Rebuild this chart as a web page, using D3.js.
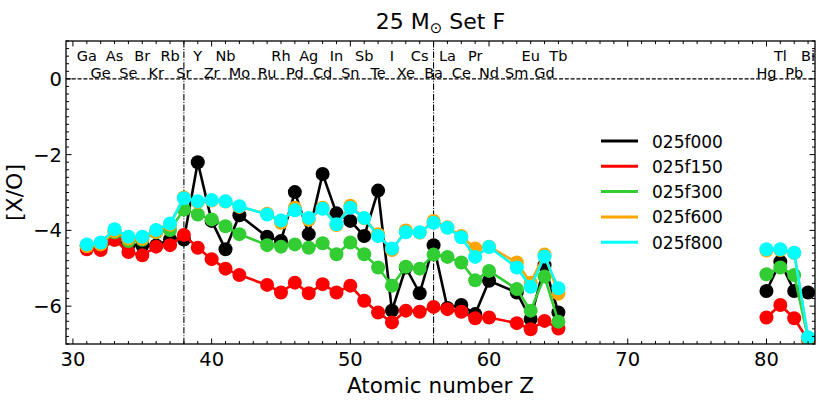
<!DOCTYPE html>
<html>
<head>
<meta charset="utf-8">
<script src="https://cdn.jsdelivr.net/npm/d3@7"></script>
<style>
  body { margin: 0; background: #fff; }
  svg { font-family: "DejaVu Sans", sans-serif; }
</style>
</head>
<body>
<svg id="chart" width="830" height="415"></svg>
<script>
"use strict";

// atomic numbers plotted (Tc, Pm and 66-79 are missing)
const zValues = [31,32,33,34,35,36,37,38,39,40,41,42,44,45,46,47,48,49,50,51,52,53,54,55,56,57,58,59,60,62,63,64,65,80,81,82,83];
const symbols = ["Ga","Ge","As","Se","Br","Kr","Rb","Sr","Y","Zr","Nb","Mo","Ru","Rh","Pd","Ag","Cd","In","Sn","Sb","Te","I","Xe","Cs","Ba","La","Ce","Pr","Nd","Sm","Eu","Gd","Tb","Hg","Tl","Pb","Bi"];

const seriesNames = ["025f000", "025f150", "025f300", "025f600", "025f800"];
const seriesColors = ["#000000", "#ff0000", "#32cd32", "#ffa500", "#00ffff"];

const f000 = [-4.42,-4.45,-4.24,-4.39,-4.40,-4.40,-4.24,-4.24,-2.20,-3.75,-4.50,-3.60,-4.17,-4.28,-2.99,-4.10,-2.51,-3.55,-3.75,-4.15,-2.95,-6.12,-4.98,-5.66,-4.39,-6.05,-5.97,-6.21,-5.33,-5.64,-6.34,-4.92,-6.17,-5.60,-4.83,-5.60,-5.64];
const f150 = [-4.50,-4.52,-4.25,-4.57,-4.66,-4.43,-4.39,-4.12,-4.46,-4.76,-5.01,-5.18,-5.44,-5.64,-5.38,-5.66,-5.42,-5.64,-5.46,-5.86,-6.17,-6.43,-6.12,-6.15,-6.02,-6.08,-6.15,-6.32,-6.30,-6.45,-6.61,-6.39,-6.59,-6.30,-5.97,-6.32,-6.90];
const f300 = [-4.40,-4.36,-4.05,-4.28,-4.25,-4.05,-3.99,-3.45,-3.58,-3.71,-3.89,-4.10,-4.39,-4.43,-4.37,-4.46,-4.34,-4.63,-4.32,-4.63,-4.98,-5.46,-4.96,-5.01,-4.64,-4.70,-4.85,-5.32,-5.07,-5.55,-6.12,-5.22,-6.41,-5.16,-4.98,-5.18,-6.85];
const f600 = [-4.42,-4.37,-4.02,-4.22,-4.22,-4.04,-3.85,-3.13,-3.25,-3.21,-3.24,-3.38,-3.56,-3.80,-3.40,-3.72,-3.40,-3.86,-3.35,-3.68,-4.10,-4.52,-4.00,-4.06,-3.75,-3.92,-4.15,-4.48,-4.43,-4.85,-5.38,-4.64,-5.67,-4.53,-4.52,-4.60,-6.85];
const f800 = [-4.37,-4.32,-3.97,-4.17,-4.17,-3.99,-3.82,-3.15,-3.23,-3.20,-3.23,-3.36,-3.58,-3.74,-3.47,-3.67,-3.43,-3.84,-3.40,-3.67,-4.15,-4.48,-4.05,-4.05,-3.80,-3.93,-4.18,-4.70,-4.44,-4.98,-5.49,-4.69,-5.53,-4.50,-4.50,-4.59,-6.82];

const xTicks = [30, 40, 50, 60, 70, 80];
const yTicks = [0, -2, -4, -6];
const peakLines = [38, 56];

const allSeries = [f000, f150, f300, f600, f800];

let svg = d3.select("#chart");
let dim = { left: 66, right: 815, top: 41, bottom: 344 };

let xScale = d3.scaleLinear().domain([29.5, 83.5]).range([dim.left, dim.right]);
let yScale = d3.scaleLinear().domain([-7, 1]).range([dim.bottom, dim.top]);

svg.append("clipPath").attr("id", "plot-clip")
  .append("rect")
  .attr("x", dim.left).attr("y", dim.top)
  .attr("width", dim.right - dim.left).attr("height", dim.bottom - dim.top);

let plot = svg.append("g").attr("clip-path", "url(#plot-clip)");

/* reference lines */
plot.append("line")
  .attr("x1", dim.left).attr("x2", dim.right)
  .attr("y1", yScale(0)).attr("y2", yScale(0))
  .attr("stroke", "#000").attr("stroke-width", 1.1)
  .attr("stroke-dasharray", "4,1.8");

plot.selectAll("line.peak")
  .data(peakLines)
  .enter()
  .append("line")
  .attr("class", "peak")
  .attr("x1", d => xScale(d)).attr("x2", d => xScale(d))
  .attr("y1", dim.top).attr("y2", dim.bottom)
  .attr("stroke", "#000").attr("stroke-width", 1.1)
  .attr("stroke-dasharray", "6.4,1.6,1,1.6");

/* series: line + markers, black first, cyan on top */
// break the line where there is a big gap in Z
let drawLine = d3.line()
  .defined(d => d !== null)
  .x(d => xScale(d.z))
  .y(d => yScale(d.v));

allSeries.forEach((values, s) => {
  let pts = [];
  values.forEach((v, i) => {
    if (i > 0 && zValues[i] - zValues[i - 1] > 2) pts.push(null);
    pts.push({ z: zValues[i], v: v });
  });
  let g = plot.append("g");
  g.append("path")
    .attr("d", drawLine(pts))
    .attr("fill", "none")
    .attr("stroke", seriesColors[s])
    .attr("stroke-width", 2.6)
    .attr("stroke-linejoin", "round");
  g.selectAll("circle")
    .data(pts.filter(p => p !== null))
    .enter()
    .append("circle")
    .attr("cx", d => xScale(d.z))
    .attr("cy", d => yScale(d.v))
    .attr("r", 7)
    .attr("fill", seriesColors[s]);
});

/* element labels, odd Z on the upper row */
svg.append("g").selectAll("text")
  .data(zValues)
  .enter()
  .append("text")
  .attr("x", d => xScale(d))
  .attr("y", d => d % 2 === 1 ? 60.5 : 78)
  .attr("text-anchor", "middle")
  .attr("font-size", "14.5px")
  .text((d, i) => symbols[i]);

/* axes with inward ticks on all four sides */
let axes = svg.append("g").attr("stroke", "#000").attr("stroke-width", 1);
let xMinor = d3.range(30, 84, 1);
let yMinor = d3.range(-35, 6, 1).map(v => v / 5);

xMinor.forEach(v => {
  let len = v % 10 === 0 ? 5.5 : 3;
  let px = xScale(v);
  axes.append("line").attr("x1", px).attr("x2", px).attr("y1", dim.bottom).attr("y2", dim.bottom - len);
  axes.append("line").attr("x1", px).attr("x2", px).attr("y1", dim.top).attr("y2", dim.top + len);
});
yMinor.forEach(v => {
  let len = Math.abs(v % 2) < 1e-9 ? 5.5 : 3;
  let py = yScale(v);
  axes.append("line").attr("x1", dim.left).attr("x2", dim.left + len).attr("y1", py).attr("y2", py);
  axes.append("line").attr("x1", dim.right).attr("x2", dim.right - len).attr("y1", py).attr("y2", py);
});

svg.append("rect")
  .attr("x", dim.left).attr("y", dim.top)
  .attr("width", dim.right - dim.left).attr("height", dim.bottom - dim.top)
  .attr("fill", "none").attr("stroke", "#000").attr("stroke-width", 1.3);

svg.append("g").selectAll("text")
  .data(xTicks)
  .enter()
  .append("text")
  .attr("x", d => xScale(d))
  .attr("y", 366)
  .attr("text-anchor", "middle")
  .attr("font-size", "19.5px")
  .text(d => d);

svg.append("g").selectAll("text")
  .data(yTicks)
  .enter()
  .append("text")
  .attr("x", dim.left - 4)
  .attr("y", d => yScale(d) + 7)
  .attr("text-anchor", "end")
  .attr("font-size", "19.5px")
  .text(d => d < 0 ? "\u2212" + Math.abs(d) : d);

/* labels and title */
svg.append("text")
  .attr("x", (dim.left + dim.right) / 2)
  .attr("y", 393)
  .attr("text-anchor", "middle")
  .attr("font-size", "21.5px")
  .text("Atomic number Z");

svg.append("text")
  .attr("transform", `translate(22, ${(dim.top + dim.bottom) / 2}) rotate(-90)`)
  .attr("text-anchor", "middle")
  .attr("font-size", "22px")
  .text("[X/O]");

let title = svg.append("text")
  .attr("x", (dim.left + dim.right) / 2)
  .attr("y", 29)
  .attr("text-anchor", "middle")
  .attr("font-size", "22px");
title.append("tspan").text("25 M");
title.append("tspan").attr("font-size", "15px").attr("dy", 4).text("\u2299");
title.append("tspan").attr("dy", -4).text(" Set F");

/* legend */
let legend = svg.append("g").attr("transform", "translate(601, 141)");
seriesNames.forEach((name, i) => {
  let row = legend.append("g").attr("transform", `translate(0, ${i * 25.3})`);
  row.append("line")
    .attr("x1", 0).attr("x2", 37)
    .attr("stroke", seriesColors[i]).attr("stroke-width", 3);
  row.append("text")
    .attr("x", 51).attr("y", 6.5)
    .attr("font-size", "17px")
    .text(name);
});
</script>
</body>
</html>
